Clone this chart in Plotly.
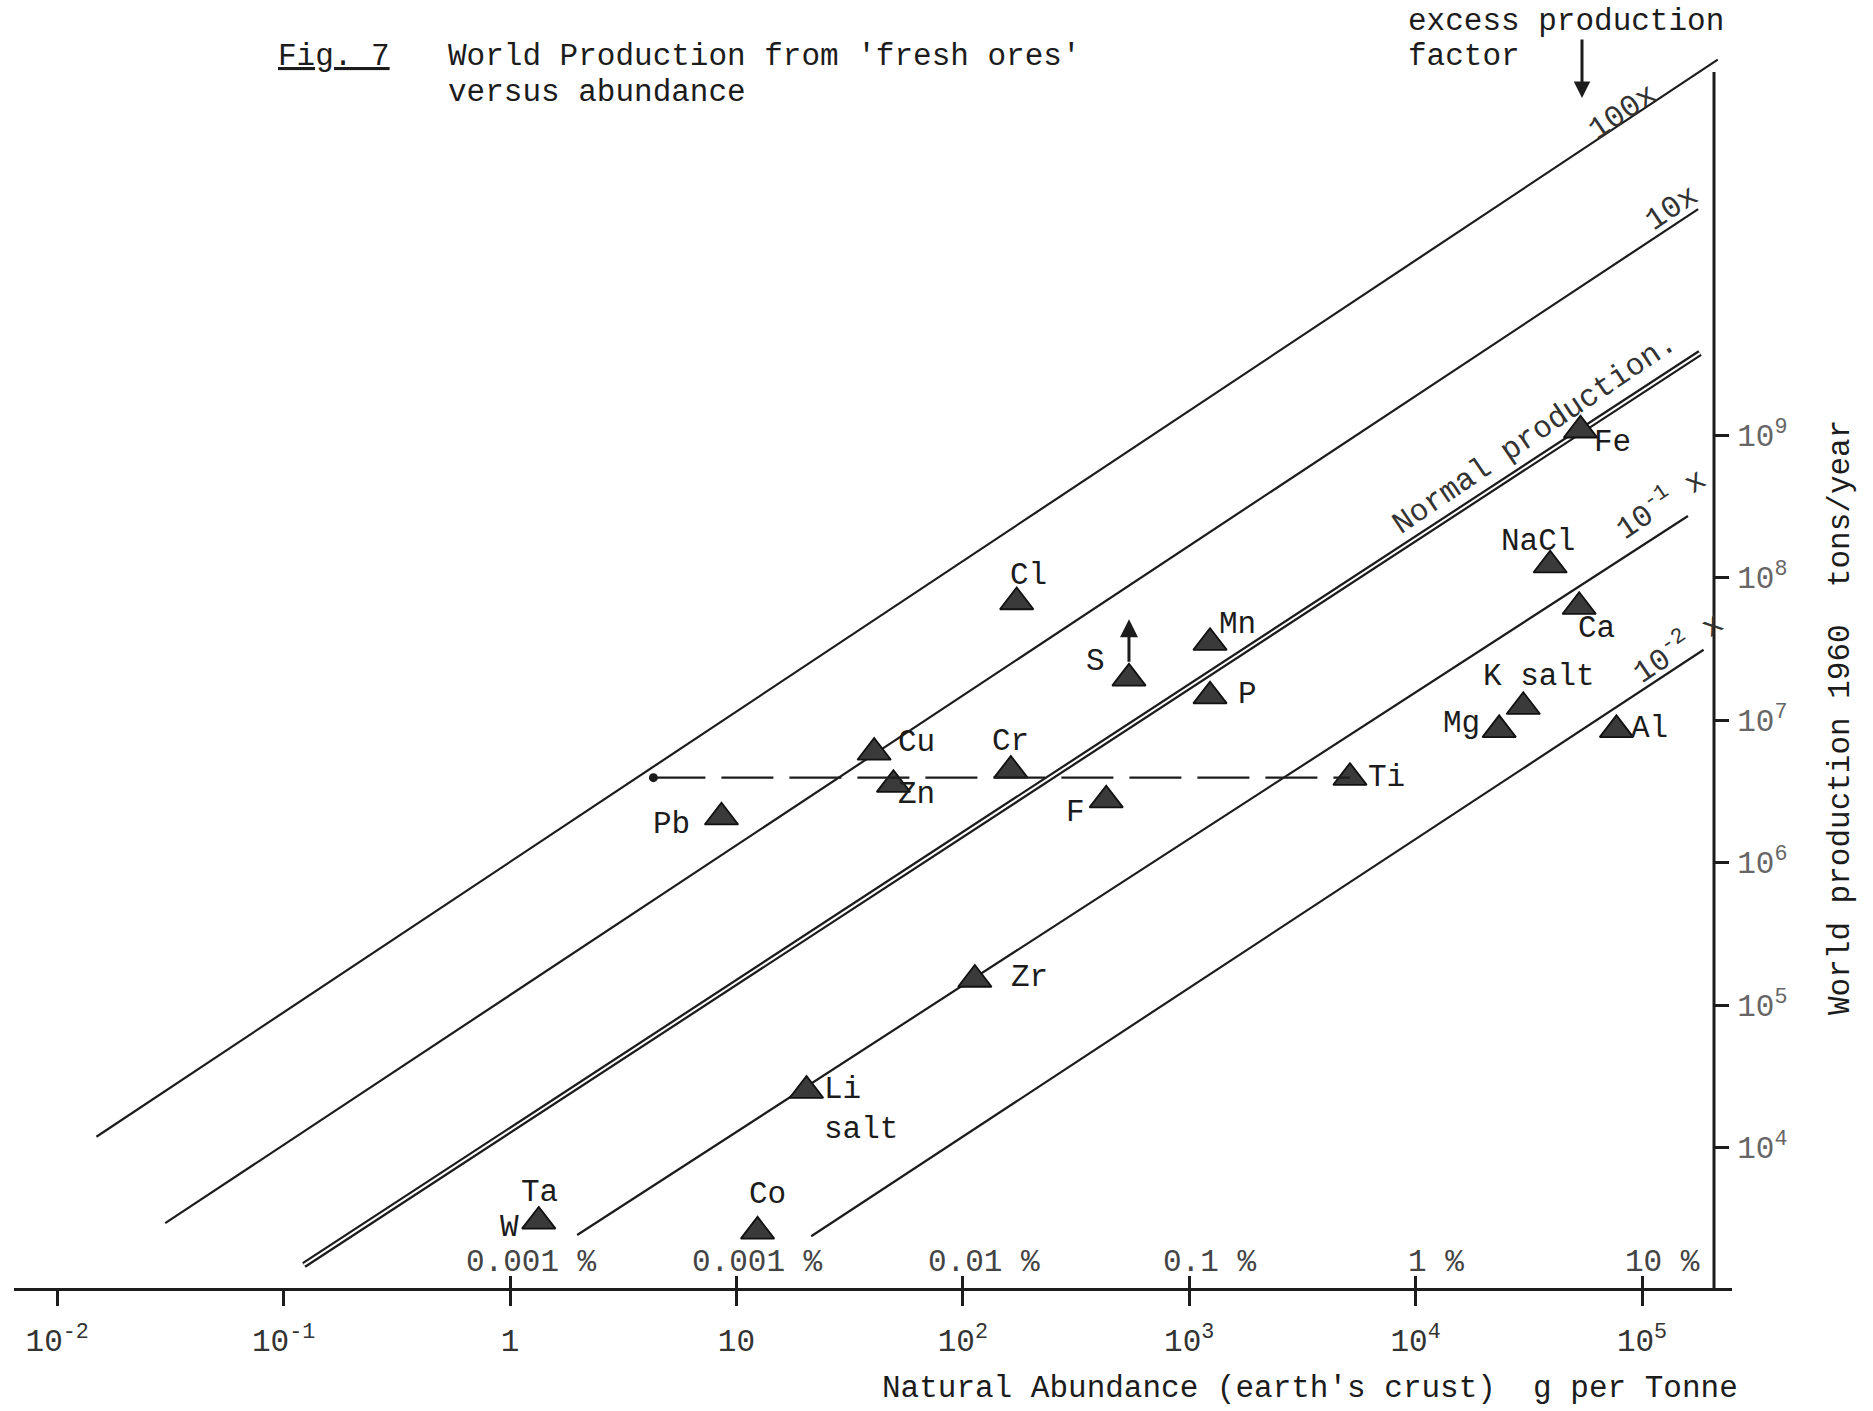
import numpy as np
import plotly.graph_objects as go

# ---------------- data ----------------
elements = ["Fe", "NaCl", "Ca", "K salt", "Mg", "Al", "Ti", "Mn", "P", "S",
            "F", "Cl", "Cr", "Cu", "Zn", "Pb", "Zr", "Li salt", "W/Ta", "Co"]
abundance_g_per_t = [53500, 39300, 52800, 29900, 23400, 77100, 5130, 1236, 1236, 542,
                     430, 173, 163, 40.6, 49.4, 8.59, 113, 20.4, 1.34, 12.4]
production_t_per_yr = [1.08e9, 1.22e8, 6.24e7, 1.24e7, 8.53e6, 8.53e6, 3.94e6, 3.49e7, 1.47e7, 1.96e7,
                       2.74e6, 6.73e7, 4.43e6, 5.92e6, 3.52e6, 2.08e6, 1.51e5, 2.51e4, 3030, 2580]

# excess production factor lines (end points as drawn)
factor_names = ["100x", "10x", "Normal production.", "10<sup>-1</sup> x", "10<sup>-2</sup> x"]
factor_x_start = [0.0149, 0.030, 0.123, 1.98, 21.4]
factor_y_start = [11900, 2944, 1500, 2432, 2382]
factor_x_end = [216000, 177000, 180300, 159600, 187100]
factor_y_end = [4.31e11, 3.85e10, 3.76e9, 2.70e8, 3.11e7]

# dashed reference level (at the Ti production level)
dash_start_abundance = 4.3
# sulphur arrow (production higher than shown)
s_arrow_production = [2.5e7, 5.1e7]

x_tickvals = [1e-2, 1e-1, 1, 10, 1e2, 1e3, 1e4, 1e5]
x_ticktext = ["10<sup>-2</sup>", "10<sup>-1</sup>", "1", "10", "10<sup>2</sup>",
              "10<sup>3</sup>", "10<sup>4</sup>", "10<sup>5</sup>"]
pct_tickvals = [1, 10, 1e2, 1e3, 1e4, 1e5]
pct_numbers = ["0.001", "0.001", "0.01", "0.1", "1", "10"]
y_tickvals = [1e4, 1e5, 1e6, 1e7, 1e8, 1e9]
y_ticktext = ["10<sup>4</sup>", "10<sup>5</sup>", "10<sup>6</sup>", "10<sup>7</sup>",
              "10<sup>8</sup>", "10<sup>9</sup>"]

# ---------------- layout geometry / styles ----------------
W, H = 1873, 1411
L, R, T, B = 14, 1732, 55, 1288
X_RANGE = [(L - 510) / 226.4, (R - 510) / 226.4]
Y_RANGE = [9 - (B - 435) / 142.5, 9 + (435 - T) / 142.5]
FONT = "Liberation Mono, Courier New, monospace"
INK = "#1c1c1c"
CW = 0.6 * 31  # character advance


def px(xp):
    return (xp - L) / (R - L)


def py(yp):
    return (B - yp) / (B - T)


# label offsets (pixels) for each point label: (text, element, dx, dy)
point_labels = [
    ("Fe", "Fe", 32, -12), ("NaCl", "NaCl", -12, 24), ("Ca", "Ca", 17, -22),
    ("K salt", "K salt", 16, 30), ("Mg", "Mg", -38, 6), ("Al", "Al", 33, 1),
    ("Ti", "Ti", 37, 0), ("Mn", "Mn", 27, 18), ("P", "P", 37, 2), ("S", "S", -33, 17),
    ("F", "F", -31, -12), ("Cl", "Cl", 12, 27), ("Cr", "Cr", 0, 29), ("Cu", "Cu", 42, 10),
    ("Zn", "Zn", 23, -10), ("Pb", "Pb", -50, -7), ("Zr", "Zr", 55, 2),
    ("Li<br>salt", "Li salt", 54, -19), ("Ta", "W/Ta", 1, 29), ("W", "W/Ta", -29, -6),
    ("Co", "Co", 10, 37),
]
# positions of the factor-line labels (data units)
factor_label_pos = [(82400, 1.82e11), (135200, 3.90e10), (33650, 1.03e9),
                    (120000, 3.33e8), (142200, 3.27e7)]

fig = go.Figure()

for i, name in enumerate(factor_names):
    xs = [factor_x_start[i], factor_x_end[i]]
    ys = [factor_y_start[i], factor_y_end[i]]
    if name.startswith("Normal"):
        fig.add_trace(go.Scatter(x=xs, y=ys, mode="lines", line=dict(color=INK, width=6.5),
                                 hoverinfo="skip", showlegend=False))
        fig.add_trace(go.Scatter(x=xs, y=ys, mode="lines", line=dict(color="white", width=2),
                                 hoverinfo="skip", showlegend=False))
    else:
        fig.add_trace(go.Scatter(x=xs, y=ys, mode="lines", line=dict(color=INK, width=2.2),
                                 hoverinfo="skip", showlegend=False))

ti = elements.index("Ti")
fig.add_trace(go.Scatter(x=[dash_start_abundance, abundance_g_per_t[ti]],
                         y=[production_t_per_yr[ti], production_t_per_yr[ti]],
                         mode="lines", xaxis="x2",
                         line=dict(color=INK, width=2.4, dash="52px,16px"),
                         hoverinfo="skip", showlegend=False))
fig.add_trace(go.Scatter(x=[dash_start_abundance], y=[production_t_per_yr[ti]], mode="markers",
                         marker=dict(color=INK, size=9), hoverinfo="skip", showlegend=False))

fig.add_trace(go.Scatter(x=abundance_g_per_t, y=production_t_per_yr, mode="markers",
                         text=elements,
                         marker=dict(symbol="triangle-up", size=29, color="#3a3a3a",
                                     line=dict(color="#111", width=1.8)),
                         showlegend=False))

ann = []
for text, el, dx, dy in point_labels:
    k = elements.index(el)
    ann.append(dict(x=np.log10(abundance_g_per_t[k]), y=np.log10(production_t_per_yr[k]),
                    xref="x", yref="y", text=text, showarrow=False, xshift=dx, yshift=dy,
                    align="left", xanchor="center", yanchor="middle",
                    font=dict(family=FONT, size=31, color=INK)))

for (lx, ly), name in zip(factor_label_pos, factor_names):
    ann.append(dict(x=np.log10(lx), y=np.log10(ly), xref="x", yref="y", text=name,
                    showarrow=False, textangle=-34, xanchor="center", yanchor="middle",
                    font=dict(family=FONT, size=31, color="#333")))

# S arrow
s = elements.index("S")
ann.append(dict(x=np.log10(abundance_g_per_t[s]), y=np.log10(s_arrow_production[1]),
                ax=np.log10(abundance_g_per_t[s]), ay=np.log10(s_arrow_production[0]),
                xref="x", yref="y", axref="x", ayref="y", text="", showarrow=True,
                arrowhead=2, arrowsize=1.2, arrowwidth=3, arrowcolor=INK))

# percent labels above the x axis
for v, num in zip(pct_tickvals, pct_numbers):
    ann.append(dict(x=np.log10(v), y=py(1262), xref="x", yref="paper", text=num + " %",
                    showarrow=False, xanchor="left", yanchor="middle",
                    xshift=-len(num) * CW / 2,
                    font=dict(family=FONT, size=31, color="#444")))


def txt(xp, yp, text, xanchor="left", **kw):
    d = dict(x=px(xp), y=py(yp), xref="paper", yref="paper", xanchor=xanchor,
             yanchor="middle", text=text, showarrow=False,
             font=dict(family=FONT, size=31, color=INK))
    d.update(kw)
    return d


ann += [
    txt(276, 57, "<u>Fig. 7</u>"),
    txt(446, 57, "World Production from 'fresh ores'"),
    txt(446, 92, "versus abundance"),
    txt(1406, 22, "excess production"),
    txt(1406, 57, "factor"),
    dict(x=px(1582), y=py(98), xref="paper", yref="paper", text="", showarrow=True,
         ax=0, ay=-60, arrowhead=2, arrowsize=1.1, arrowwidth=3, arrowcolor=INK),
    txt(880, 1388, "Natural Abundance (earth's crust)\u00a0\u00a0g per Tonne"),
    txt(1840, 718, "World production 1960\u00a0\u00a0tons/year", xanchor="center", textangle=-90),
]

fig.update_layout(
    width=W, height=H, margin=dict(l=L, r=W - R, t=T, b=H - B, pad=0),
    paper_bgcolor="white", plot_bgcolor="white", showlegend=False, hovermode="closest",
    xaxis=dict(type="log", range=X_RANGE, showgrid=False, zeroline=False,
               showline=True, linecolor=INK, linewidth=3,
               ticks="outside", ticklen=15, tickwidth=2.5, tickcolor=INK,
               tickvals=x_tickvals, ticktext=x_ticktext, ticklabelstandoff=8,
               tickfont=dict(family=FONT, size=31, color="#333")),
    xaxis2=dict(type="log", range=X_RANGE, overlaying="x", anchor="y", side="bottom",
                showgrid=False, zeroline=False, showline=False,
                ticks="inside", ticklen=12, tickwidth=2.5, tickcolor=INK,
                tickvals=pct_tickvals, showticklabels=False),
    yaxis=dict(type="log", range=Y_RANGE, anchor="free", position=px(1714), side="right",
               showgrid=False, zeroline=False, showline=False,
               ticks="outside", ticklen=14, tickwidth=2.5, tickcolor=INK,
               tickvals=y_tickvals, ticktext=y_ticktext, ticklabelstandoff=2,
               tickfont=dict(family=FONT, size=31, color="#666")),
    shapes=[dict(type="line", xref="paper", yref="paper", x0=px(1714), x1=px(1714),
                 y0=0, y1=py(72), line=dict(color=INK, width=3))],
    annotations=ann,
)

fig.write_html("out.html")
